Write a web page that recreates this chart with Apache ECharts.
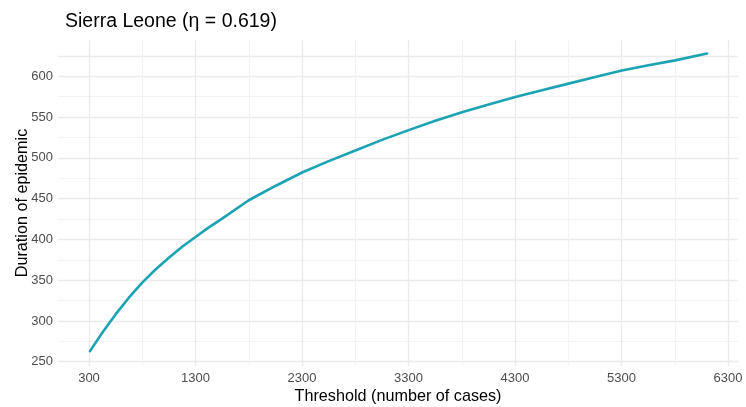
<!DOCTYPE html>
<html>
<head>
<meta charset="utf-8">
<script src="https://cdn.jsdelivr.net/npm/echarts@6/dist/echarts.min.js"></script>
<style>html,body{margin:0;padding:0;background:#fff;}#c{width:746px;height:407px;}</style>
</head>
<body>
<div id="c"></div>
<script>
const titleText = 'Sierra Leone (η = 0.619)';
const xName = 'Threshold (number of cases)';
const yName = 'Duration of epidemic';
const thresholds = [310, 430, 550, 675, 800, 925, 1050, 1175, 1300, 1425, 1550, 1800, 2050, 2300, 2550, 2800, 3050, 3300, 3550, 3800, 4050, 4300, 4550, 4800, 5050, 5300, 5550, 5800, 6100];
const duration  = [263, 286.5, 308, 328.5, 347, 363, 377.5, 391, 403, 414.7, 425.5, 448, 465.5, 482, 496, 509, 522, 534, 545.5, 556, 565.5, 574.5, 583, 591, 599, 607, 613.5, 619.5, 628];
const xTicks = [300, 1300, 2300, 3300, 4300, 5300, 6300];
const yTicks = [250, 300, 350, 400, 450, 500, 550, 600];

const FONT = 'Liberation Sans, Arial, Helvetica, sans-serif';
const gridMajor = {show: true, lineStyle: {color: '#EBEBEB', width: 1.3}};
const gridMinor = {show: true, lineStyle: {color: '#F3F3F3', width: 1}};

const chart = echarts.init(document.getElementById('c'), null, {renderer: 'canvas'});
chart.setOption({
  animation: false,
  backgroundColor: '#fff',
  title: {
    text: titleText, left: 60, top: 7,
    textStyle: {fontFamily: FONT, fontSize: 19.5, fontWeight: 'normal', color: '#000'}
  },
  grid: [
    {left: 58, right: 8, top: 55.9, bottom: 45.3, containLabel: false, outerBoundsMode: 'none'},
    {left: 89, right: 18, top: 40, bottom: 41, containLabel: false, outerBoundsMode: 'none'}
  ],
  xAxis: [
    {
      gridIndex: 0, type: 'value', min: 10, max: 6390,
      axisLine: {show: false}, axisTick: {show: false}, axisLabel: {show: false},
      splitLine: {show: false},
      name: xName, nameLocation: 'middle', nameGap: 27,
      nameTextStyle: {fontFamily: FONT, fontSize: 16.2, color: '#000'}
    },
    {
      gridIndex: 1, type: 'value', min: xTicks[0], max: xTicks[xTicks.length - 1], interval: 1000,
      axisLine: {show: false}, axisTick: {show: false},
      axisLabel: {fontFamily: FONT, fontSize: 13, color: '#4D4D4D', margin: 6, formatter: v => String(v)},
      splitLine: gridMajor,
      minorTick: {show: false, splitNumber: 2},
      minorSplitLine: gridMinor
    }
  ],
  yAxis: [
    {
      gridIndex: 0, type: 'value', min: yTicks[0], max: 625, interval: 50,
      axisLine: {show: false}, axisTick: {show: false},
      axisLabel: {fontFamily: FONT, fontSize: 13, color: '#4D4D4D', margin: 5, showMaxLabel: false, formatter: v => String(v)},
      splitLine: gridMajor,
      minorTick: {show: false, splitNumber: 2},
      minorSplitLine: gridMinor
    },
    {
      gridIndex: 1, type: 'value', min: 0, max: 1,
      axisLine: {show: false}, axisTick: {show: false}, axisLabel: {show: false},
      splitLine: {show: false},
      name: yName, nameLocation: 'middle', nameGap: 58, nameRotate: 90,
      nameTextStyle: {fontFamily: FONT, fontSize: 16.2, color: '#000'}
    }
  ],
  series: [{
    type: 'line',
    xAxisIndex: 0, yAxisIndex: 0,
    data: thresholds.map((t, i) => [t, duration[i]]),
    smooth: false,
    showSymbol: false,
    clip: false,
    lineStyle: {color: '#1BA3B3', width: 2.6, cap: 'round', join: 'round'}
  }]
});
</script>
</body>
</html>
